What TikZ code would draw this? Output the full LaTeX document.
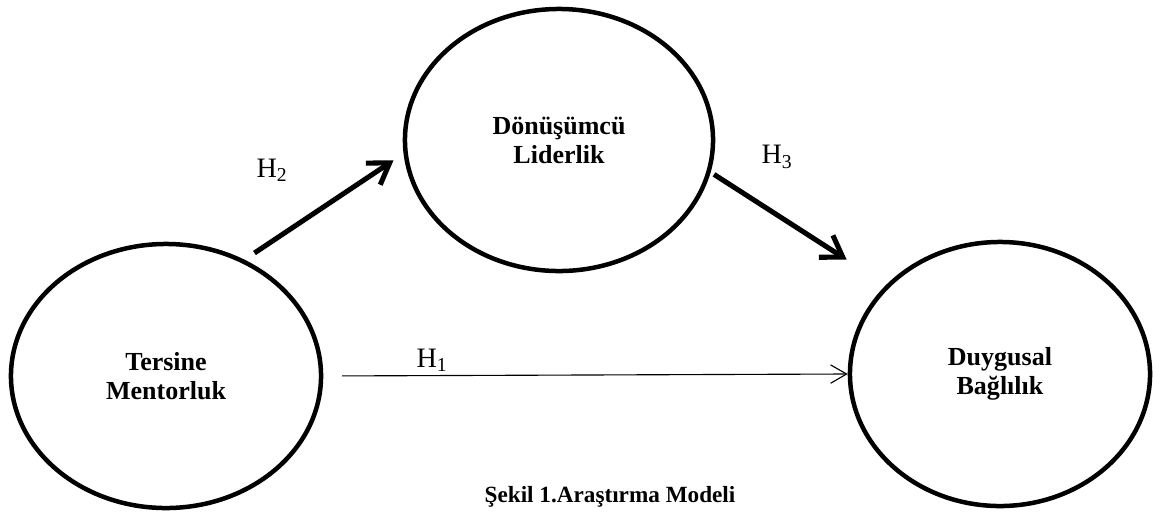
\documentclass[tikz,border=0pt]{standalone}
\usepackage{fontspec}
\setmainfont{Liberation Serif}
\usetikzlibrary{shapes.geometric,arrows.meta}
\begin{document}
\begin{tikzpicture}[x=0.025cm,y=-0.025cm,
	oval/.style={draw,ellipse,line width=3.2pt,inner sep=0pt,align=center,
		font=\fontsize{18.5}{20.6}\selectfont\bfseries},
	hyp/.style={font=\fontsize{20}{24}\selectfont},
	bigarrow/.style={line width=3.6pt,-{Straight Barb[length=5mm,width=6.5mm]}},
	thinarrow/.style={line width=0.8pt,-{Straight Barb[length=4mm,width=4.6mm]}}]
	\useasboundingbox (0,0) rectangle (1153,515);
	\node[oval,minimum width=7.75cm,minimum height=6.6cm] (tm) at (166,376) {Tersine\\Mentorluk};
	\node[oval,minimum width=7.7cm,minimum height=6.55cm] (dl) at (559,140) {Dönüşümcü\\Liderlik};
	\node[oval,minimum width=7.5cm,minimum height=6.6cm] (dr) at (1000,374) {Duygusal\\Bağlılık};
	\draw[bigarrow,shorten <=0.3cm,shorten >=0.3cm] (tm.56) -- (dl.185);
	\draw[bigarrow,shorten <=0.1cm,shorten >=1.17cm] (dl.-12) -- (dr.142);
	\draw[thinarrow,shorten <=0.47cm] (tm.east) -- (dr.west);
	\node[hyp] (h2) at (272,170) {H\textsubscript{2}};
	\node[hyp] (h3) at (777,157) {H\textsubscript{3}};
	\node[hyp] (h1) at (432,360) {H\textsubscript{1}};
	\node[font=\fontsize{16.5}{20}\selectfont\bfseries] (cap) at (610,497) {Şekil 1.Araştırma Modeli};
\end{tikzpicture}
\end{document}
